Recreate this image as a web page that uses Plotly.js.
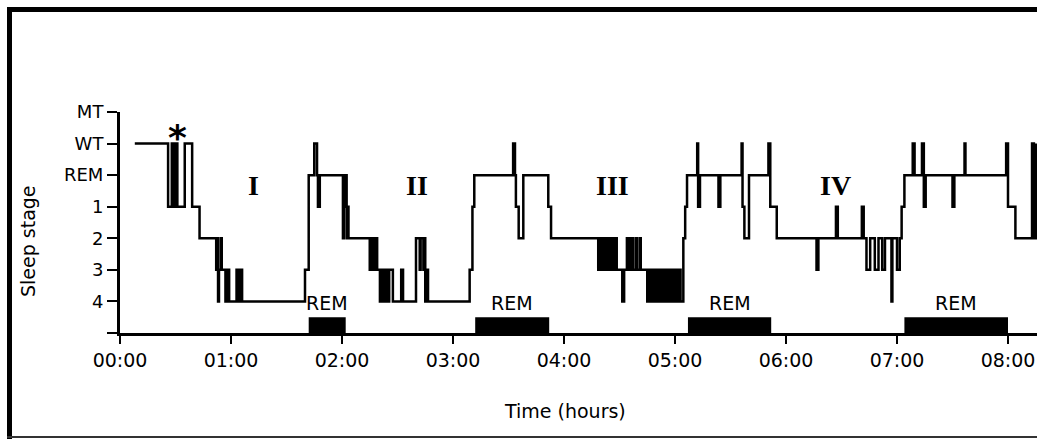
<!DOCTYPE html>
<html>
<head>
<meta charset="utf-8">
<script src="https://cdn.plot.ly/plotly-3.0.1.min.js"></script>
<style>
  html, body { margin: 0; padding: 0; background: #fff; }
  #chart { width: 1037px; height: 439px; }
</style>
</head>
<body>
<div id="chart"></div>
<script>
// ---- data ----
// stage categories, top to bottom
const stageLabels = ['MT', 'WT', 'REM', '1', '2', '3', '4'];
const stageValues = [6, 5, 4, 3, 2, 1, 0];

// hypnogram: minute from recording start at which each stage begins
const epochMinutes = [
  8, 26, 28, 29, 30, 31, 35, 39, 43, 52, 52.5, 53, 53.5, 54.5, 55, 57, 57.5, 58, 58.5, 59, 63, 64, 65, 66,
  100, 102, 105, 106.5, 107, 108, 120.5, 121, 121.5, 122, 122.5, 123, 123.5,
  135, 135.5, 136, 137, 137.5, 138.5, 139, 140.5, 141, 142, 142.5, 143.5, 144, 145, 145.5, 147.5, 152, 153,
  160, 162, 162.5, 164, 164.5, 165, 165.5, 166.5, 189, 190.5, 191.5,
  212.5, 213.5, 214, 215.5, 218, 231.5, 233,
  258.5, 259, 259.5, 260.5, 261, 262, 262.5, 263.5, 264, 265, 265.5, 266.5, 267, 268, 268.5,
  271.5, 272.5, 274, 274.5, 275.5, 276, 277, 277.5, 279, 279.5, 281, 281.5,
  285, 285.5, 286.5, 287, 288, 288.5, 289.5, 290, 291, 291.5, 292.5, 293, 294, 294.5, 295.5, 296, 297, 297.5,
  298.5, 299, 300, 300.5, 301.5, 302, 303,
  304.5, 305.5, 306.5, 312, 312.5, 313.5, 323.5, 324.5, 336, 336.5, 337.5, 340, 350.5, 351.5, 355,
  376.5, 377.5, 387, 388, 401, 402, 403.5, 405.5, 408, 410, 412, 413.5, 417, 417.5, 420, 421.5, 422.5, 424,
  428.5, 429.5, 433.5, 434.5, 435.5, 450, 451, 456.5, 457, 479, 480, 484, 493, 494, 495
];
const epochStages = [
  'WT', '1', 'WT', '1', 'WT', '1', 'WT', '1', '2', '3', '2', '4', '3', '2', '3', '4', '3', '4', '3', '4', '3', '4', '3', '4',
  '3', 'REM', 'WT', 'REM', '1', 'REM', '2', 'REM', '1', 'REM', '2', '1', '2',
  '3', '2', '3', '2', '3', '2', '3', '4', '3', '4', '3', '4', '3', '4', '3', '4', '3', '4',
  '2', '3', '2', '3', '2', '4', '3', '4', '3', '1', 'REM',
  'WT', 'REM', '1', '2', 'REM', '1', '2',
  '3', '2', '3', '2', '3', '2', '3', '2', '3', '2', '3', '2', '3', '2', '3',
  '4', '3', '2', '3', '2', '3', '2', '3', '2', '3', '2', '3',
  '4', '3', '4', '3', '4', '3', '4', '3', '4', '3', '4', '3', '4', '3', '4', '3', '4', '3',
  '4', '3', '4', '3', '4', '3', '4',
  '2', '1', 'REM', 'WT', '1', 'REM', '1', 'REM', 'WT', '1', '2', 'REM', 'WT', '1', '2',
  '3', '2', '1', '2', '1', '2', '3', '2', '3', '2', '3', '2', '4', '2', '3', '2', '1', 'REM',
  'WT', 'REM', 'WT', '1', 'REM', '1', 'REM', 'WT', 'REM', 'WT', '1', '2', 'WT', '2', 'WT'
];

// REM periods (minutes)
const remStart = [102, 192, 307, 424];
const remEnd   = [122, 232, 352, 480];
const remLabel = 'REM';

// sleep cycles
const cycleLabels = ['I', 'II', 'III', 'IV'];
const cycleMinutes = [72, 160.5, 266, 386.5];

// x axis ticks
const hourTickMinutes = [0, 60, 120, 180, 240, 300, 360, 420, 480];
const hourTickLabels = ['00:00', '01:00', '02:00', '03:00', '04:00', '05:00', '06:00', '07:00', '08:00'];

const xTitle = 'Time (hours)';
const yTitle = 'Sleep stage';

// ---- build ----
const stageNum = s => stageValues[stageLabels.indexOf(s)];

const W = 1037, H = 439;
const M = { l: 120, r: 0, t: 112, b: 106 };
const PW = W - M.l - M.r, PH = H - M.t - M.b;
const px = v => (v - M.l) / PW;
const py = v => (H - M.b - v) / PH;

const SANS = 'DejaVu Sans, Arial, sans-serif';

const trace = {
  x: epochMinutes,
  y: epochStages.map(stageNum),
  type: 'scatter',
  mode: 'lines',
  line: { shape: 'hv', color: '#000', width: 2.5 },
  cliponaxis: false,
  hoverinfo: 'skip'
};

const shapes = [];
for (let i = 0; i < remStart.length; i++) {
  shapes.push({
    type: 'rect', xref: 'x', yref: 'y',
    x0: remStart[i], x1: remEnd[i], y0: -1, y1: -0.5,
    fillcolor: '#000', line: { width: 0 }
  });
}
// outer frame
shapes.push({ type: 'rect', xref: 'paper', yref: 'paper', x0: px(7), x1: px(12), y0: py(439), y1: py(7), fillcolor: '#000', line: { width: 0 } });
shapes.push({ type: 'rect', xref: 'paper', yref: 'paper', x0: px(7), x1: px(1037), y0: py(12), y1: py(7), fillcolor: '#000', line: { width: 0 } });
shapes.push({ type: 'line', xref: 'paper', yref: 'paper', x0: px(7), x1: px(1037), y0: py(437), y1: py(437), line: { color: '#333', width: 2 } });

const annotations = [];
for (let i = 0; i < remStart.length; i++) {
  annotations.push({
    x: (remStart[i] + remEnd[i]) / 2, y: -0.06, xref: 'x', yref: 'y',
    text: remLabel, showarrow: false, xanchor: 'center', yanchor: 'middle',
    font: { family: SANS, size: 19, color: '#000' }
  });
}
for (let i = 0; i < cycleLabels.length; i++) {
  annotations.push({
    x: cycleMinutes[i], y: 3.67, xref: 'x', yref: 'y',
    text: cycleLabels[i], showarrow: false, xanchor: 'center', yanchor: 'middle',
    font: { family: 'Liberation Serif, Times New Roman, serif', size: 28, color: '#000', weight: 'bold' }
  });
}
annotations.push({
  x: 31.3, y: 5.2, xref: 'x', yref: 'y', text: '*', showarrow: false,
  xanchor: 'center', yanchor: 'middle',
  font: { family: SANS, size: 36, color: '#000', weight: 'bold' }
});
// axis titles
annotations.push({
  x: px(565), y: py(411), xref: 'paper', yref: 'paper', text: xTitle, showarrow: false,
  xanchor: 'center', yanchor: 'middle',
  font: { family: SANS, size: 19, color: '#000' }
});
annotations.push({
  x: px(28), y: py(241), xref: 'paper', yref: 'paper', text: yTitle, showarrow: false,
  textangle: -90, xanchor: 'center', yanchor: 'middle',
  font: { family: SANS, size: 19, color: '#000' }
});

const layout = {
  width: W, height: H,
  margin: M,
  paper_bgcolor: '#fff', plot_bgcolor: '#fff',
  showlegend: false,
  xaxis: {
    range: [0, (W - M.l - M.r) / 111 * 60],
    tickmode: 'array', tickvals: hourTickMinutes, ticktext: hourTickLabels,
    ticks: 'outside', ticklen: 8, tickwidth: 2, tickcolor: '#000',
    showline: true, linewidth: 3, linecolor: '#000',
    showgrid: false, zeroline: false,
    tickfont: { family: SANS, size: 19, color: '#000' }
  },
  yaxis: {
    range: [-1, 6],
    tickmode: 'array', tickvals: [-1].concat(stageValues), ticktext: [''].concat(stageLabels),
    ticks: 'outside', ticklen: 10, tickwidth: 2, tickcolor: '#000',
    showline: true, linewidth: 3, linecolor: '#000',
    showgrid: false, zeroline: false,
    tickfont: { family: SANS, size: 18, color: '#000' }
  },
  shapes: shapes,
  annotations: annotations
};

Plotly.newPlot('chart', [trace], layout, { displayModeBar: false, staticPlot: true });
</script>
</body>
</html>
